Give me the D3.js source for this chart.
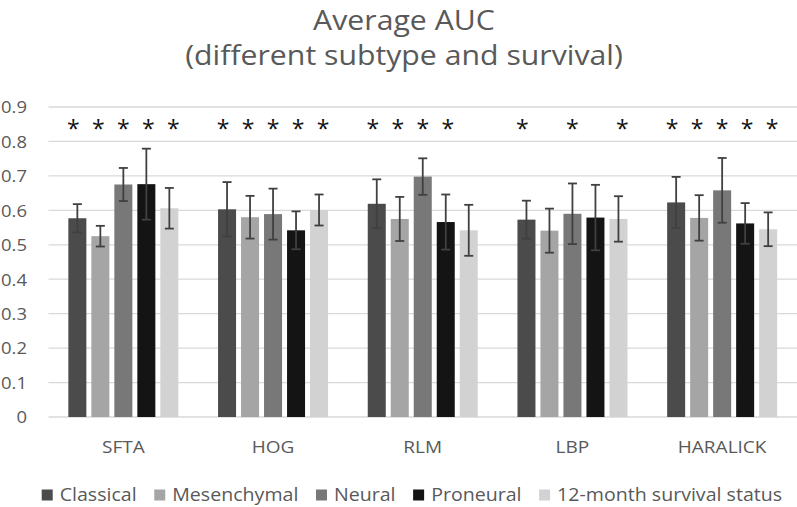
<!DOCTYPE html>
<html>
<head>
<meta charset="utf-8">
<script src="https://cdn.jsdelivr.net/npm/d3@7"></script>
<style>
  html, body { margin: 0; padding: 0; background: #fff; }
  svg { display: block; font-family: "Open Sans", sans-serif; }
</style>
</head>
<body>
<svg id="chart" width="797" height="507"></svg>
<script>
// ---- data ----
const categories = ["SFTA", "HOG", "RLM", "LBP", "HARALICK"];
const seriesNames = ["Classical", "Mesenchymal", "Neural", "Proneural", "12-month survival status"];
const seriesColors = ["#4b4b4b", "#a5a5a5", "#787878", "#141414", "#d2d2d2"];
// values[series][category]
const classicalValues   = [0.577, 0.603, 0.619, 0.573, 0.623];
const mesenchymalValues = [0.525, 0.580, 0.575, 0.541, 0.578];
const neuralValues      = [0.675, 0.589, 0.698, 0.590, 0.658];
const proneuralValues   = [0.676, 0.542, 0.566, 0.579, 0.562];
const survivalValues    = [0.606, 0.601, 0.542, 0.575, 0.545];
// error (+/-)
const classicalErr   = [0.041, 0.079, 0.071, 0.055, 0.074];
const mesenchymalErr = [0.030, 0.062, 0.064, 0.064, 0.066];
const neuralErr      = [0.048, 0.074, 0.053, 0.088, 0.094];
const proneuralErr   = [0.103, 0.055, 0.080, 0.095, 0.059];
const survivalErr    = [0.059, 0.045, 0.074, 0.066, 0.049];
// significance asterisks per series per category
const classicalSig   = [1, 1, 1, 1, 1];
const mesenchymalSig = [1, 1, 1, 0, 1];
const neuralSig      = [1, 1, 1, 1, 1];
const proneuralSig   = [1, 1, 1, 0, 1];
const survivalSig    = [1, 1, 0, 1, 1];
const asteriskLevel = 0.85;
const yTicks = [0, 0.1, 0.2, 0.3, 0.4, 0.5, 0.6, 0.7, 0.8, 0.9];
const titleLines = ["Average AUC", "(different subtype and survival)"];

const allValues = [classicalValues, mesenchymalValues, neuralValues, proneuralValues, survivalValues];
const allErr = [classicalErr, mesenchymalErr, neuralErr, proneuralErr, survivalErr];
const allSig = [classicalSig, mesenchymalSig, neuralSig, proneuralSig, survivalSig];

// ---- layout ----
const svg = d3.select("#chart");
const plotLeft = 48.5, plotRight = 797, plotTop = 107, plotBottom = 417;
const textColor = "#595959";
const sx = 1.12; // horizontal text stretch

const x0 = d3.scaleBand().domain(categories).range([plotLeft, plotRight]).padding(0);
const x1 = d3.scaleBand().domain(seriesNames).range([0, x0.bandwidth()])
  .paddingInner(0.217).paddingOuter(0.863);
const y = d3.scaleLinear().domain([0, 0.9]).range([plotBottom, plotTop]);

function stretchedText(sel, x, yy, anchor) {
  return sel.append("text")
    .attr("transform", `translate(${x},${yy}) scale(${sx},1)`)
    .attr("text-anchor", anchor);
}

// title
titleLines.forEach((t, i) => {
  stretchedText(svg, 404, i === 0 ? 30 : 65, "middle")
    .attr("font-size", 27).attr("fill", textColor).text(t);
});

// gridlines
svg.append("g").selectAll("line").data(yTicks).join("line")
  .attr("x1", plotLeft).attr("x2", plotRight)
  .attr("y1", d => y(d)).attr("y2", d => y(d))
  .attr("stroke", "#d9d9d9").attr("stroke-width", 1.3);

// y axis labels
const yAxisG = svg.append("g");
yTicks.forEach(t => {
  stretchedText(yAxisG, 27, y(t) + 6.3, "end")
    .attr("font-size", 16.5).attr("fill", textColor)
    .text(t === 0 ? "0" : d3.format(".1f")(t));
});

// bars
const barsG = svg.append("g");
seriesNames.forEach((s, si) => {
  categories.forEach((c, ci) => {
    const v = allValues[si][ci];
    barsG.append("rect")
      .attr("x", x0(c) + x1(s))
      .attr("y", y(v))
      .attr("width", x1.bandwidth())
      .attr("height", y(0) - y(v))
      .attr("fill", seriesColors[si]);
  });
});

// error bars
const errG = svg.append("g").attr("stroke", "#404040").attr("stroke-width", 1.8).attr("fill", "none");
const capW = 9;
seriesNames.forEach((s, si) => {
  categories.forEach((c, ci) => {
    const v = allValues[si][ci], e = allErr[si][ci];
    const cx = x0(c) + x1(s) + x1.bandwidth() / 2;
    errG.append("line").attr("x1", cx).attr("x2", cx).attr("y1", y(v + e)).attr("y2", y(v - e));
    errG.append("line").attr("x1", cx - capW / 2).attr("x2", cx + capW / 2).attr("y1", y(v + e)).attr("y2", y(v + e));
    errG.append("line").attr("x1", cx - capW / 2).attr("x2", cx + capW / 2).attr("y1", y(v - e)).attr("y2", y(v - e));
  });
});

// asterisks
const astG = svg.append("g");
const astStep = 25;
categories.forEach((c, ci) => {
  const gc = x0(c) + x0.bandwidth() / 2;
  seriesNames.forEach((s, si) => {
    if (allSig[si][ci]) {
      astG.append("text")
        .attr("x", gc + (si - 2) * astStep)
        .attr("y", y(asteriskLevel) + 13)
        .attr("text-anchor", "middle")
        .attr("font-size", 23).attr("fill", "#111")
        .text("*");
    }
  });
});

// x labels
const xAxisG = svg.append("g");
categories.forEach(c => {
  stretchedText(xAxisG, x0(c) + x0.bandwidth() / 2, 453, "middle")
    .attr("font-size", 17).attr("fill", textColor).text(c);
});

// legend
const legG = svg.append("g");
const sq = 11, sqGap = 7, itemGap = 17.5, legCenter = 412, legBase = 500.5;
const items = seriesNames.map((s, i) => {
  const g = legG.append("g");
  g.append("rect").attr("width", sq).attr("height", sq).attr("y", legBase - 11).attr("fill", seriesColors[i]);
  const t = g.append("text").attr("font-size", 17.5).attr("fill", textColor).text(s);
  const w = t.node().getComputedTextLength() * sx;
  return { g, t, w };
});
const total = items.reduce((a, it) => a + sq + sqGap + it.w, 0) + itemGap * (items.length - 1);
let cx = legCenter - total / 2;
items.forEach(it => {
  it.g.select("rect").attr("x", cx);
  it.t.attr("transform", `translate(${cx + sq + sqGap},${legBase}) scale(${sx},1)`);
  cx += sq + sqGap + it.w + itemGap;
});
</script>
</body>
</html>
